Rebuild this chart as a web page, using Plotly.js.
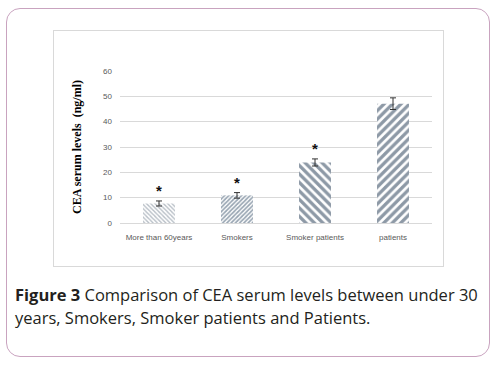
<!DOCTYPE html>
<html><head><meta charset="utf-8">
<script src="https://cdn.plot.ly/plotly-3.0.1.min.js"></script>
<style>
body{margin:0;background:#fff;width:500px;height:371px;overflow:hidden;position:relative;}
#outer{position:absolute;left:6px;top:8px;width:484px;height:349px;border:1px solid #c9a3bf;border-radius:14px;box-sizing:border-box;}
#inner{position:absolute;left:53px;top:30px;width:391px;height:237px;border:1px solid #d9d9d9;box-sizing:border-box;}
#chart{position:absolute;left:0;top:0;width:500px;height:371px;}
#cap{position:absolute;left:15px;top:283px;width:480px;font-family:"Open Sans",sans-serif;font-size:16.5px;line-height:23px;color:#231f20;white-space:nowrap;}
</style></head>
<body>
<div id="outer"></div>
<div id="inner"></div>
<div id="chart"></div>
<div id="cap"><b>Figure 3</b> Comparison of CEA serum levels between under 30<br>years, Smokers, Smoker patients and Patients.</div>
<script>
const categories = ["More than 60years", "Smokers", "Smoker patients", "patients"];
const means = [7.7, 10.9, 23.9, 47.1];
const errors = [1.0, 1.1, 1.4, 2.3];
const stars = ["*", "*", "*", ""];
const yTicks = [0, 10, 20, 30, 40, 50, 60];

const patterns = [
  {shape: "\\", fgcolor: "#6f7e8d", size: 3, solidity: 0.45},
  {shape: "/", fgcolor: "#324c66", size: 3, solidity: 0.55},
  {shape: "\\", fgcolor: "#1c344e", size: 6, solidity: 0.55},
  {shape: "/", fgcolor: "#1c344e", size: 6, solidity: 0.55}
];

const trace = {
  type: "bar",
  x: categories,
  y: means,
  width: 0.41,
  marker: {
    color: "#ffffff",
    line: {width: 0},
    pattern: {
      shape: patterns.map(p => p.shape),
      fgcolor: patterns.map(p => p.fgcolor),
      bgcolor: "#ffffff",
      size: patterns.map(p => p.size),
      solidity: patterns.map(p => p.solidity),
      fillmode: "overlay"
    }
  },
  error_y: {type: "data", array: errors, symmetric: true, color: "#333333", thickness: 1, width: 3},
  hoverinfo: "skip"
};

const annotations = categories.map((c, i) => ({
  x: c, y: means[i] + errors[i], xref: "x", yref: "y",
  text: "<b>" + stars[i] + "</b>", showarrow: false, yanchor: "bottom", yshift: 0,
  font: {family: "Liberation Sans", size: 15, color: "#111"}
})).filter((a, i) => stars[i]);

const layout = {
  width: 500, height: 371,
  margin: {l: 120, r: 68, t: 71, b: 148},
  paper_bgcolor: "rgba(0,0,0,0)",
  plot_bgcolor: "rgba(0,0,0,0)",
  showlegend: false,
  xaxis: {
    showgrid: false, zeroline: false, showline: true, linecolor: "#d9d9d9", linewidth: 1,
    ticks: "", ticklabelstandoff: 6, tickfont: {family: "Liberation Sans", size: 8, color: "#595959"}
  },
  yaxis: {
    range: [0, 60], tickvals: yTicks, ticktext: yTicks.map(String),
    showgrid: true, gridcolor: "#d9d9d9", gridwidth: 1, zeroline: false, showline: false,
    ticks: "", ticklabelstandoff: 7,
    tickfont: {family: "Liberation Sans", size: 8, color: "#595959"},
    title: {text: "<b>CEA serum levels  (ng/ml)</b>", standoff: 18, font: {family: "Liberation Serif", size: 12, color: "#000"}}
  },
  annotations: annotations
};

Plotly.newPlot("chart", [trace], layout, {displayModeBar: false, staticPlot: true});
</script>
</body></html>
